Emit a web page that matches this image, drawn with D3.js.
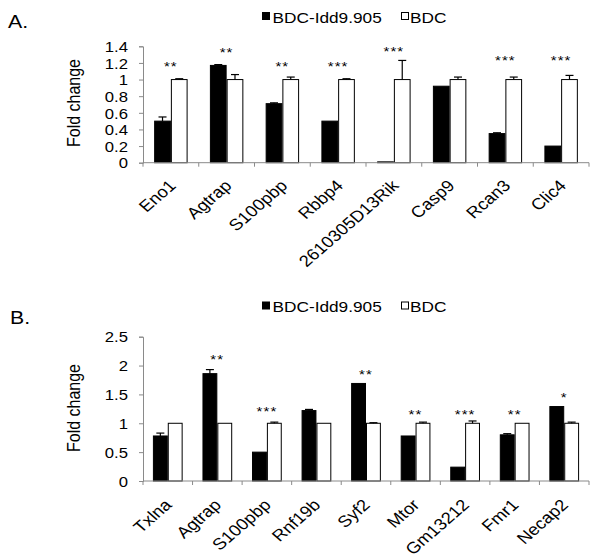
<!DOCTYPE html>
<html><head><meta charset="utf-8">
<script src="https://cdn.jsdelivr.net/npm/d3@7"></script>
<style>
body{margin:0;background:#fff;}
text{font-family:"Liberation Sans",Arial,sans-serif;fill:#000;}
</style></head>
<body><svg id="c" width="601" height="557"></svg>
<script>
const seriesNames = ["BDC-Idd9.905", "BDC"];

const genesA = ["Eno1","Agtrap","S100pbp","Rbbp4","2610305D13Rik","Casp9","Rcan3","Clic4"];
const idd9A  = [0.50, 1.17, 0.71, 0.50, 0.01, 0.92, 0.35, 0.20];
const idd9ErrA = [0.05, 0.01, 0.01, 0.00, 0.00, 0.00, 0.01, 0.00];
const bdcA   = [1.00, 1.00, 1.00, 1.00, 1.00, 1.00, 1.00, 1.00];
const bdcErrA = [0.01, 0.06, 0.03, 0.01, 0.23, 0.03, 0.03, 0.05];
const starsA = ["**","**","**","***","***","","***","***"];
const starLevelA = [1.195, 1.363, 1.195, 1.195, 1.375, 0, 1.267, 1.267];
const ticksA = [0,0.2,0.4,0.6,0.8,1,1.2,1.4];
const tickLabelsA = ["0","0.2","0.4","0.6","0.8","1","1.2","1.4"];

const genesB = ["Txlna","Agtrap","S100pbp","Rnf19b","Syf2","Mtor","Gm13212","Fmr1","Necap2"];
const idd9B  = [0.78, 1.86, 0.50, 1.22, 1.69, 0.78, 0.24, 0.80, 1.29];
const idd9ErrB = [0.05, 0.07, 0.00, 0.02, 0.00, 0.00, 0.00, 0.02, 0.00];
const bdcB   = [1.00, 1.00, 1.00, 1.00, 1.00, 1.00, 1.00, 1.00, 1.00];
const bdcErrB = [0.00, 0.00, 0.02, 0.00, 0.01, 0.02, 0.04, 0.00, 0.02];
const starsB = ["","**","***","","**","**","***","**","*"];
const starLevelB = [0, 2.17, 1.27, 0, 1.91, 1.22, 1.22, 1.22, 1.51];
const ticksB = [0,0.5,1,1.5,2,2.5];
const tickLabelsB = ["0","0.5","1","1.5","2","2.5"];

const svg = d3.select("#c");
const axisColor = "#8a8a8a";
const SX = 1.15; // horizontal stretch of the original figure

function htext(g, x, y, size, str, anchor){
  return g.append("text").attr("transform",`translate(${x},${y}) scale(${SX},1)`)
    .attr("text-anchor", anchor || "start").style("font-size", size+"px").text(str);
}

function panel(cfg){
  const g = svg.append("g");
  const x = d3.scaleBand().domain(cfg.genes).range([143, 589]).padding(0);
  const xs = d3.scaleBand().domain(seriesNames).range([x.bandwidth()*0.2, x.bandwidth()*0.8]).padding(0);
  const y = d3.scaleLinear().domain([0, cfg.ymax]).range([cfg.y0, cfg.yTop]);

  // panel letter
  htext(g, cfg.letterX, cfg.letterY, 18.5, cfg.letter);

  // legend
  g.append("rect").attr("x",262).attr("y",cfg.legY-10.5).attr("width",8).attr("height",8).attr("fill","#000");
  htext(g, 272.5, cfg.legY, 15, seriesNames[0]);
  g.append("rect").attr("x",401.5).attr("y",cfg.legY-10).attr("width",7).attr("height",7).attr("fill","#fff").attr("stroke","#000").attr("stroke-width",1);
  htext(g, 410, cfg.legY, 15, seriesNames[1]);

  // y axis
  const ya = d3.axisLeft(y).tickValues(cfg.ticks).tickFormat((d,i)=>cfg.tickLabels[i]).tickSize(4).tickPadding(0);
  const yg = g.append("g").attr("transform","translate(143,0)").call(ya);
  yg.select(".domain").attr("stroke",axisColor);
  yg.selectAll(".tick line").attr("stroke",axisColor);
  yg.selectAll(".tick text").style("font-size","14.5px").attr("font-family",null)
    .attr("x", -15/SX).attr("dy","0.36em").attr("transform",`scale(${SX},1)`);

  // y label
  g.append("text").attr("transform",`translate(80,${cfg.ylabY}) scale(${SX},1) rotate(-90)`)
    .attr("text-anchor","middle").style("font-size","16px").text("Fold change");

  // bars
  cfg.genes.forEach((gene,i)=>{
    const vals = [cfg.idd9[i], cfg.bdc[i]];
    const errs = [cfg.idd9Err[i], cfg.bdcErr[i]];
    vals.forEach((v,j)=>{
      const bx = x(gene) + xs(seriesNames[j]);
      const bw = xs.bandwidth();
      g.append("rect").attr("x",bx+0.5).attr("y",y(v)).attr("width",bw-1).attr("height",Math.max(0,y(0)-y(v)))
        .attr("fill", j===0 ? "#000" : "#fff").attr("stroke","#000").attr("stroke-width",1);
      if(errs[j] > 0){
        const cx = bx + bw/2;
        g.append("line").attr("x1",cx).attr("x2",cx).attr("y1",y(v)).attr("y2",y(v+errs[j])).attr("stroke","#000").attr("stroke-width",1.2);
        g.append("line").attr("x1",cx-4).attr("x2",cx+4).attr("y1",y(v+errs[j])).attr("y2",y(v+errs[j])).attr("stroke","#000").attr("stroke-width",1.2);
      }
    });
    if(cfg.stars[i]){
      htext(g, x(gene)+x.bandwidth()/2, y(cfg.starLevel[i])+8, 13, cfg.stars[i], "middle").style("letter-spacing","1px");
    }
  });

  // x axis
  const xa = d3.axisBottom(x).tickSize(0).tickFormat("");
  const xg = g.append("g").attr("transform",`translate(0,${cfg.y0})`).call(xa);
  xg.select(".domain").attr("stroke",axisColor).attr("d",`M143,0H589`);
  const bounds = cfg.genes.map(d=>x(d)).concat([589]);
  xg.selectAll(".bt").data(bounds).join("line").attr("class","bt")
    .attr("x1",d=>d).attr("x2",d=>d).attr("y1",0).attr("y2",4).attr("stroke",axisColor);
  g.selectAll(null).data(cfg.genes).join("text")
    .attr("transform",d=>`translate(${x(d)+x.bandwidth()/2+cfg.labDx},${cfg.y0+cfg.labDy}) scale(${SX},1) rotate(-45)`)
    .attr("text-anchor","end").style("font-size","16px").text(d=>d);
}

panel({genes:genesA, idd9:idd9A, idd9Err:idd9ErrA, bdc:bdcA, bdcErr:bdcErrA, stars:starsA, starLevel:starLevelA,
  ticks:ticksA, tickLabels:tickLabelsA, ymax:1.4, y0:162.7, yTop:46.3, letter:"A.", letterX:8, letterY:28,
  legY:22.5, ylabY:103, labDy:24, labDx:6});
panel({genes:genesB, idd9:idd9B, idd9Err:idd9ErrB, bdc:bdcB, bdcErr:bdcErrB, stars:starsB, starLevel:starLevelB,
  ticks:ticksB, tickLabels:tickLabelsB, ymax:2.5, y0:481, yTop:336.7, letter:"B.", letterX:10, letterY:324,
  legY:312, ylabY:408, labDy:25, labDx:5});
</script></body></html>
